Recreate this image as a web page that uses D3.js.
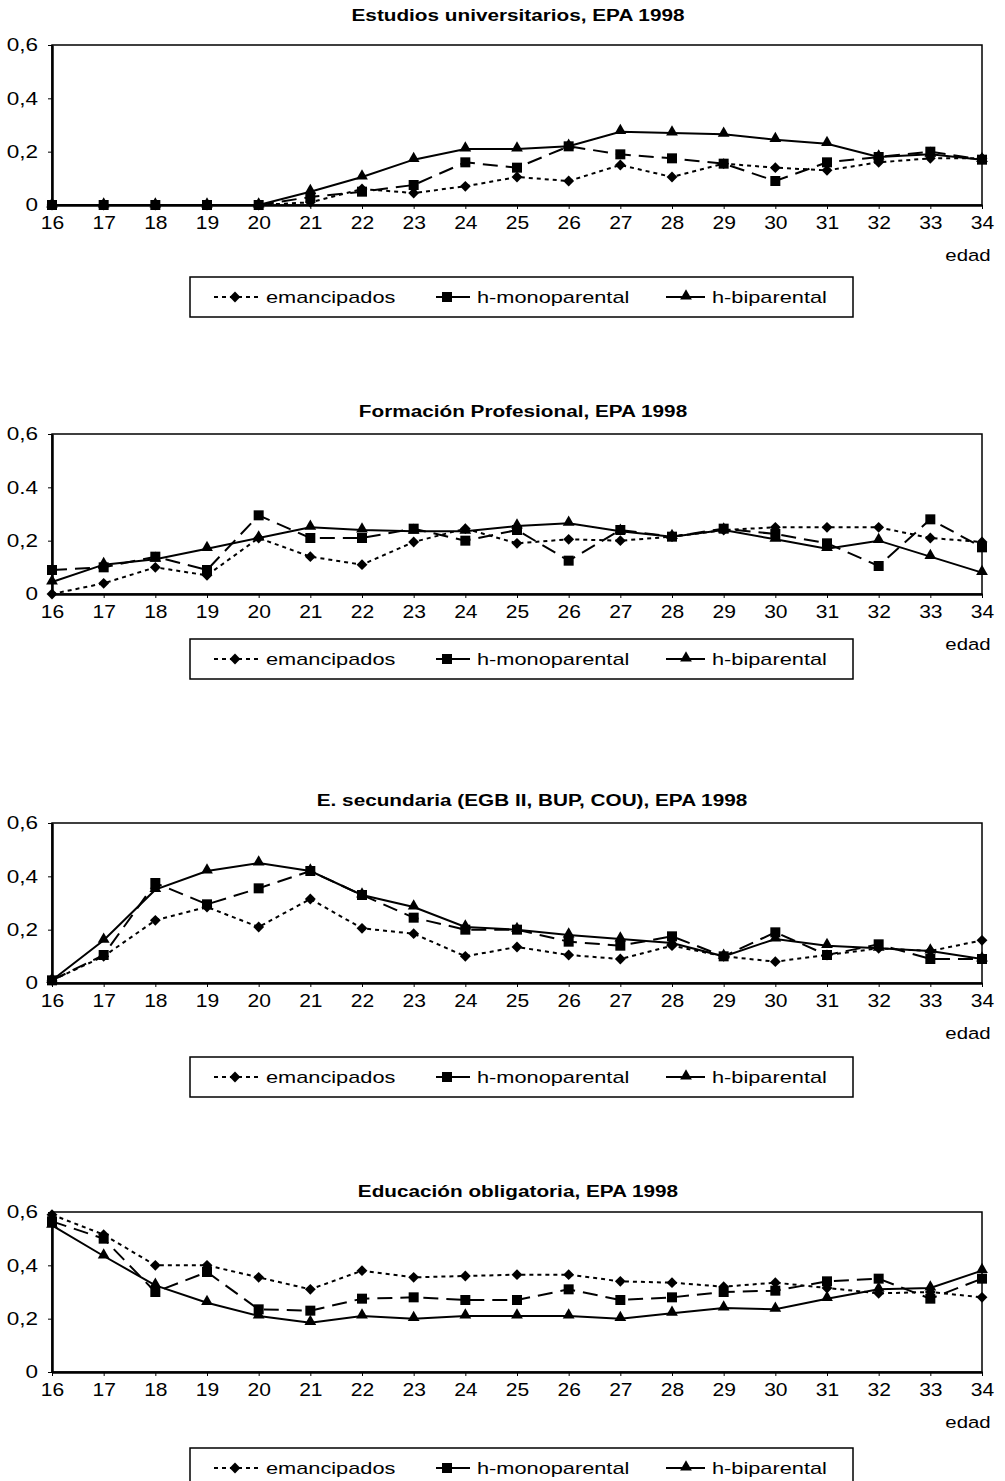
<!DOCTYPE html>
<html>
<head>
<meta charset="utf-8">
<script src="https://cdn.jsdelivr.net/npm/d3@7"></script>
<style>
  html, body { margin: 0; padding: 0; background: #fff; }
  svg { display: block; font-family: "Liberation Sans", Arial, Helvetica, sans-serif; }
</style>
</head>
<body>
<svg id="chart" width="1005" height="1481"></svg>
<script>
// Ages shown on the horizontal axis
const ages = [16, 17, 18, 19, 20, 21, 22, 23, 24, 25, 26, 27, 28, 29, 30, 31, 32, 33, 34];

// Series names
const seriesNames = ["emancipados", "h-monoparental", "h-biparental"];

// Estudios universitarios
const uniEmancipados = [0, 0, 0, 0, 0, 0.01, 0.06, 0.045, 0.07, 0.105, 0.09, 0.15, 0.105, 0.155, 0.14, 0.13, 0.16, 0.175, 0.175];
const uniMonoparental = [0, 0, 0, 0, 0, 0.03, 0.05, 0.075, 0.16, 0.14, 0.22, 0.19, 0.175, 0.155, 0.09, 0.16, 0.18, 0.2, 0.17];
const uniBiparental = [0, 0, 0, 0, 0, 0.05, 0.105, 0.17, 0.21, 0.21, 0.22, 0.275, 0.27, 0.265, 0.245, 0.23, 0.18, 0.19, 0.17];

// Formación Profesional
const fpEmancipados = [0.0, 0.04, 0.1, 0.07, 0.21, 0.14, 0.11, 0.195, 0.245, 0.19, 0.205, 0.2, 0.215, 0.24, 0.25, 0.25, 0.25, 0.21, 0.195];
const fpMonoparental = [0.09, 0.1, 0.14, 0.09, 0.295, 0.21, 0.21, 0.245, 0.2, 0.24, 0.125, 0.24, 0.215, 0.245, 0.225, 0.19, 0.105, 0.28, 0.175];
const fpBiparental = [0.045, 0.11, 0.13, 0.17, 0.21, 0.25, 0.24, 0.235, 0.235, 0.255, 0.265, 0.235, 0.215, 0.24, 0.205, 0.17, 0.2, 0.14, 0.08];

// E. secundaria
const secEmancipados = [0.01, 0.1, 0.235, 0.285, 0.21, 0.315, 0.205, 0.185, 0.1, 0.135, 0.105, 0.09, 0.14, 0.1, 0.08, 0.105, 0.13, 0.12, 0.16];
const secMonoparental = [0.01, 0.105, 0.375, 0.295, 0.355, 0.42, 0.33, 0.245, 0.2, 0.2, 0.155, 0.14, 0.175, 0.1, 0.19, 0.105, 0.145, 0.09, 0.09];
const secBiparental = [0.01, 0.16, 0.35, 0.42, 0.45, 0.42, 0.33, 0.285, 0.21, 0.2, 0.18, 0.165, 0.15, 0.1, 0.165, 0.14, 0.13, 0.12, 0.09];

// Educación obligatoria
const oblEmancipados = [0.59, 0.515, 0.4, 0.4, 0.355, 0.31, 0.38, 0.355, 0.36, 0.365, 0.365, 0.34, 0.335, 0.32, 0.335, 0.315, 0.295, 0.3, 0.28];
const oblMonoparental = [0.565, 0.5, 0.3, 0.375, 0.235, 0.23, 0.275, 0.28, 0.27, 0.27, 0.31, 0.27, 0.28, 0.3, 0.305, 0.34, 0.35, 0.275, 0.35];
const oblBiparental = [0.55, 0.435, 0.325, 0.26, 0.21, 0.185, 0.21, 0.2, 0.21, 0.21, 0.21, 0.2, 0.22, 0.24, 0.235, 0.275, 0.31, 0.315, 0.38];

// Chart titles
const titles = [
  "Estudios universitarios, EPA 1998",
  "Formación Profesional, EPA 1998",
  "E. secundaria (EGB II, BUP, COU), EPA 1998",
  "Educación obligatoria, EPA 1998"
];

// Y tick values and their printed labels per chart
const yTicks = [0, 0.2, 0.4, 0.6];
const yTickLabels = [
  ["0", "0,2", "0,4", "0,6"],
  ["0", "0,2", "0.4", "0,6"],
  ["0", "0,2", "0,4", "0,6"],
  ["0", "0,2", "0,4", "0,6"]
];
const xAxisLabel = "edad";

const panels = [
  [uniEmancipados, uniMonoparental, uniBiparental],
  [fpEmancipados, fpMonoparental, fpBiparental],
  [secEmancipados, secMonoparental, secBiparental],
  [oblEmancipados, oblMonoparental, oblBiparental]
];

// ---- layout ----
const plotLeft = 52, plotRight = 982, plotH = 160;
const panelTops = [45, 434, 823, 1212];
const titleOffsets = [-24, -17, -17, -15];
const titleCenters = [518, 523, 532, 518];
const legendOffsets = [232, 205, 234, 236];
const legendX = 190, legendW = 663, legendH = 40;
const wide = 1.17; // horizontal stretch of the typeface

// Line styles for the three series
const styles = [
  { dash: "4,4", marker: "diamond" },
  { dash: "15,8", marker: "square" },
  { dash: null, marker: "triangle" }
];

const svg = d3.select("#chart");

const x = d3.scalePoint().domain(ages).range([plotLeft, plotRight]);

// text placed at (tx, ty) and stretched horizontally around its anchor
function wideText(parent, tx, ty, str, size, anchor, sx, bold) {
  return parent.append("text")
    .attr("transform", `translate(${tx},${ty}) scale(${sx},1)`)
    .attr("text-anchor", anchor)
    .attr("font-size", size)
    .attr("font-weight", bold ? "bold" : null)
    .attr("fill", "#000")
    .text(str);
}

function drawMarker(g, type, cx, cy) {
  if (type === "diamond") {
    g.append("path")
      .attr("d", d3.symbol().type(d3.symbolDiamond2).size(75)())
      .attr("transform", `translate(${cx},${cy})`)
      .attr("fill", "#000");
  } else if (type === "square") {
    g.append("rect")
      .attr("x", cx - 5).attr("y", cy - 5)
      .attr("width", 10).attr("height", 10)
      .attr("fill", "#000");
  } else {
    g.append("path")
      .attr("d", d3.symbol().type(d3.symbolTriangle).size(60)())
      .attr("transform", `translate(${cx},${cy - 1})`)
      .attr("fill", "#000");
  }
}

panels.forEach((series, i) => {
  const top = panelTops[i];
  const bottom = top + plotH;
  const y = d3.scaleLinear().domain([0, 0.6]).range([bottom, top]);
  const g = svg.append("g");

  // title
  wideText(g, titleCenters[i], top + titleOffsets[i], titles[i], 17, "middle", 1.22, true);

  // frame
  g.append("rect")
    .attr("x", plotLeft).attr("y", top)
    .attr("width", plotRight - plotLeft).attr("height", plotH)
    .attr("fill", "none").attr("stroke", "#000").attr("stroke-width", 1.5);

  // x axis
  const xa = g.append("g")
    .attr("transform", `translate(0,${bottom})`)
    .call(d3.axisBottom(x).tickSize(4).tickSizeOuter(0));
  xa.select(".domain").attr("stroke", "#000").attr("stroke-width", 2.5);
  xa.selectAll("text").attr("font-size", 18).attr("dy", "0.95em").attr("fill", "#000")
    .attr("transform", `scale(${wide},1)`)
    .attr("font-family", "'Liberation Sans', Arial, sans-serif");

  // y axis
  const ya = g.append("g")
    .attr("transform", `translate(${plotLeft},0)`)
    .call(d3.axisLeft(y).tickValues(yTicks).tickSize(4).tickSizeOuter(0)
      .tickFormat((d, k) => yTickLabels[i][k]));
  ya.select(".domain").attr("stroke", "#000").attr("stroke-width", 2.5);
  ya.selectAll("text").attr("font-size", 18).attr("x", -14 / 1.25).attr("fill", "#000")
    .attr("transform", "scale(1.25,1)")
    .attr("font-family", "'Liberation Sans', Arial, sans-serif");

  // axis name
  wideText(g, 968, bottom + 56, xAxisLabel, 17, "middle", 1.2, false);

  // series lines and markers
  series.forEach((vals, s) => {
    const line = d3.line().x((d, k) => x(ages[k])).y(d => y(d));
    g.append("path")
      .datum(vals)
      .attr("d", line)
      .attr("fill", "none")
      .attr("stroke", "#000")
      .attr("stroke-width", 2)
      .attr("stroke-dasharray", styles[s].dash);
    vals.forEach((v, k) => drawMarker(g, styles[s].marker, x(ages[k]), y(v)));
  });

  // legend
  const ly = bottom + legendOffsets[i] - plotH;
  const lg = g.append("g");
  lg.append("rect")
    .attr("x", legendX).attr("y", ly)
    .attr("width", legendW).attr("height", legendH)
    .attr("fill", "#fff").attr("stroke", "#000").attr("stroke-width", 1.5);
  const cyL = ly + legendH / 2;
  const items = [
    { x1: 214, x2: 258, mx: 235, tx: 266 },
    { x1: 436, x2: 470, mx: 447, tx: 477 },
    { x1: 666, x2: 705, mx: 686, tx: 712 }
  ];
  items.forEach((it, s) => {
    lg.append("line")
      .attr("x1", it.x1).attr("x2", it.x2)
      .attr("y1", cyL).attr("y2", cyL)
      .attr("stroke", "#000").attr("stroke-width", 2)
      .attr("stroke-dasharray", s === 0 ? "4,4" : s === 1 ? "7,5,22" : null);
    drawMarker(lg, styles[s].marker, it.mx, cyL);
    wideText(lg, it.tx, cyL + 6, seriesNames[s], 17, "start", 1.28, false);
  });
});
</script>
</body>
</html>
